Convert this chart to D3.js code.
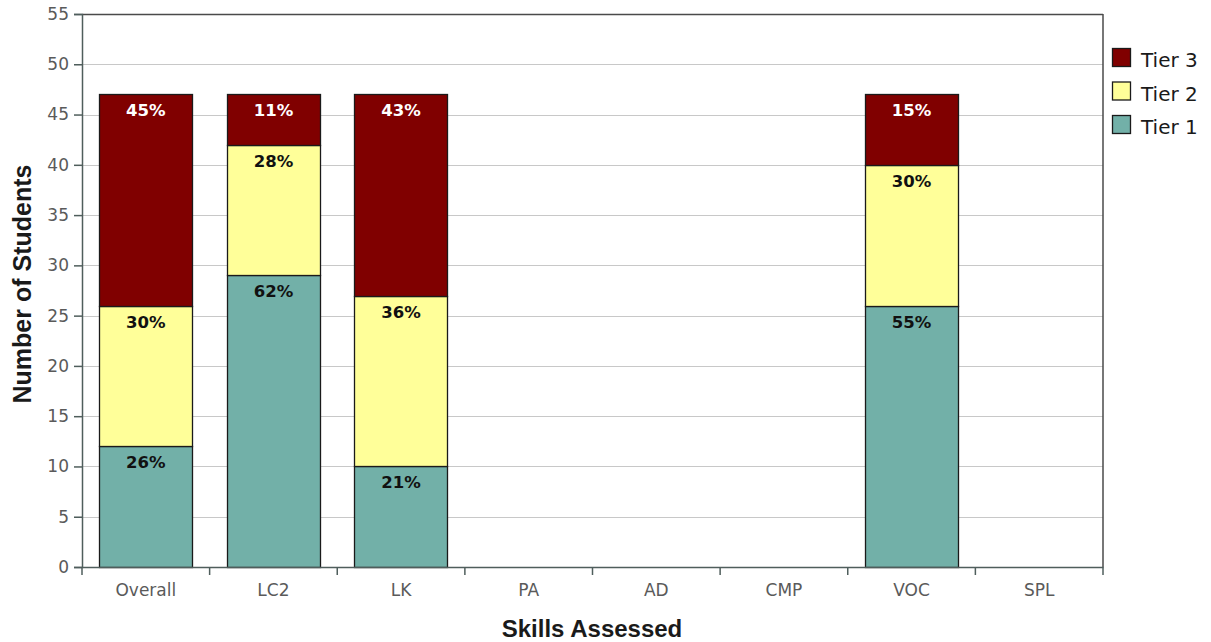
<!DOCTYPE html>
<html>
<head>
<meta charset="utf-8">
<script src="https://cdn.jsdelivr.net/npm/d3@7"></script>
<style>
  body { margin: 0; background: #fff; }
  text { font-family: "Liberation Sans", Arial, sans-serif; }
</style>
</head>
<body>
<div id="chart"></div>
<script>
// skills on the x axis
var categories = ["Overall", "LC2", "LK", "PA", "AD", "CMP", "VOC", "SPL"];
// number of students per tier (0 = not assessed)
var tier1 = [12, 29, 10, 0, 0, 0, 26, 0];
var tier2 = [14, 13, 17, 0, 0, 0, 14, 0];
var tier3 = [21, 5, 20, 0, 0, 0, 7, 0];
// percentage labels shown in each segment
var pct1 = ["26%", "62%", "21%", "", "", "", "55%", ""];
var pct2 = ["30%", "28%", "36%", "", "", "", "30%", ""];
var pct3 = ["45%", "11%", "43%", "", "", "", "15%", ""];
var yTicks = d3.range(0, 56, 5);

var tiers = [
  {name: "Tier 1", values: tier1, labels: pct1, color: "#72b0a8", text: "#111"},
  {name: "Tier 2", values: tier2, labels: pct2, color: "#ffff99", text: "#111"},
  {name: "Tier 3", values: tier3, labels: pct3, color: "#800000", text: "#fff"}
];

var margin = {top: 14, right: 108, bottom: 75, left: 82},
    width = 1211 - margin.left - margin.right,
    height = 642 - margin.top - margin.bottom;

var svg = d3.select("#chart").append("svg")
    .attr("width", 1211)
    .attr("height", 642);

var plot = svg.append("g")
    .attr("transform", "translate(" + margin.left + "," + margin.top + ")");

var x = d3.scaleBand().domain(categories).range([0, width]).paddingInner(0.27).paddingOuter(0.135);
var xb = d3.scaleBand().domain(categories).range([0, width]);
var y = d3.scaleLinear().domain([0, 55]).range([height, 0]);

// gridlines
plot.append("g").selectAll("line").data(yTicks.slice(1)).enter()
    .append("line")
    .attr("x1", 0).attr("x2", width)
    .attr("y1", function(d) { return Math.round(y(d)) + 0.5; })
    .attr("y2", function(d) { return Math.round(y(d)) + 0.5; })
    .style("stroke", "#c8c8c8")
    .style("stroke-width", 1);

// stacked bars
var stack = [];
categories.forEach(function(c, i) {
  var base = 0;
  tiers.forEach(function(t) {
    var v = t.values[i];
    if (v > 0) stack.push({cat: c, y0: base, y1: base + v, tier: t, label: t.labels[i]});
    base += v;
  });
});

plot.append("g").selectAll("rect").data(stack).enter()
    .append("rect")
    .attr("x", function(d) { return Math.round(x(d.cat)) + 0.5; })
    .attr("y", function(d) { return Math.round(y(d.y1)) + 0.5; })
    .attr("width", Math.round(x.bandwidth()))
    .attr("height", function(d) { return Math.round(y(d.y0)) - Math.round(y(d.y1)); })
    .style("fill", function(d) { return d.tier.color; })
    .style("stroke", "#1a1a1a")
    .style("stroke-width", 1.3);

plot.append("g").selectAll("text").data(stack).enter()
    .append("text")
    .attr("x", function(d) { return x(d.cat) + x.bandwidth() / 2; })
    .attr("y", function(d) { return y(d.y1) + 22; })
    .attr("text-anchor", "middle")
    .style("font-family", "'DejaVu Sans', sans-serif")
    .style("font-size", "16.5px")
    .style("font-weight", "bold")
    .style("fill", function(d) { return d.tier.text; })
    .text(function(d) { return d.label; });

// frame: top and right
plot.append("line").attr("x1", 0).attr("x2", width).attr("y1", 0.5).attr("y2", 0.5)
    .style("stroke", "#4a4a4a").style("stroke-width", 1.5);
plot.append("line").attr("x1", width).attr("x2", width).attr("y1", 0).attr("y2", height)
    .style("stroke", "#4a4a4a").style("stroke-width", 1.5);

// axes
var yAxis = plot.append("g")
    .call(d3.axisLeft(y).tickValues(yTicks).tickSize(8).tickPadding(5));
var xAxis = plot.append("g")
    .attr("transform", "translate(0," + height + ")")
    .call(d3.axisBottom(xb).tickSize(0).tickPadding(17));

xAxis.selectAll(".tick-b").data(categories.concat(["end"])).enter()
    .append("line")
    .attr("class", "tick-b")
    .attr("x1", function(d, i) { return i * xb.bandwidth(); })
    .attr("x2", function(d, i) { return i * xb.bandwidth(); })
    .attr("y1", 0).attr("y2", 8)
    .style("stroke", "#4f5e5c").style("stroke-width", 1.5);

[yAxis, xAxis].forEach(function(a) {
  a.select(".domain").style("stroke", "#4f5e5c").style("stroke-width", 1.5);
  a.selectAll(".tick line").style("stroke", "#4f5e5c").style("stroke-width", 1.5);
  a.selectAll(".tick text")
    .style("font-size", "17px")
    .style("fill", "#5a5a5a")
    .style("font-family", "'DejaVu Sans', sans-serif");
});

// axis titles
svg.append("text")
    .attr("transform", "translate(31," + 284 + ") rotate(-90)")
    .attr("text-anchor", "middle")
    .style("font-size", "25px")
    .style("font-weight", "bold")
    .style("fill", "#1a1a1a")
    .text("Number of Students");

svg.append("text")
    .attr("x", 592)
    .attr("y", 637)
    .attr("text-anchor", "middle")
    .style("font-size", "24px")
    .style("font-weight", "bold")
    .style("fill", "#1a1a1a")
    .text("Skills Assessed");

// legend
var legend = svg.append("g")
    .attr("transform", "translate(1112,48)");
var leg = legend.selectAll("g").data(tiers.slice().reverse()).enter()
    .append("g")
    .attr("transform", function(d, i) { return "translate(0," + (i * 33.5) + ")"; });
leg.append("rect")
    .attr("x", 0.5).attr("y", 0.5)
    .attr("width", 18).attr("height", 18)
    .style("fill", function(d) { return d.color; })
    .style("stroke", "#1a1a1a").style("stroke-width", 1.3);
leg.append("text")
    .attr("x", 29).attr("y", 19)
    .style("font-family", "'DejaVu Sans', sans-serif")
    .style("font-size", "20px")
    .style("fill", "#1a1a1a")
    .text(function(d) { return d.name; });
</script>
</body>
</html>
